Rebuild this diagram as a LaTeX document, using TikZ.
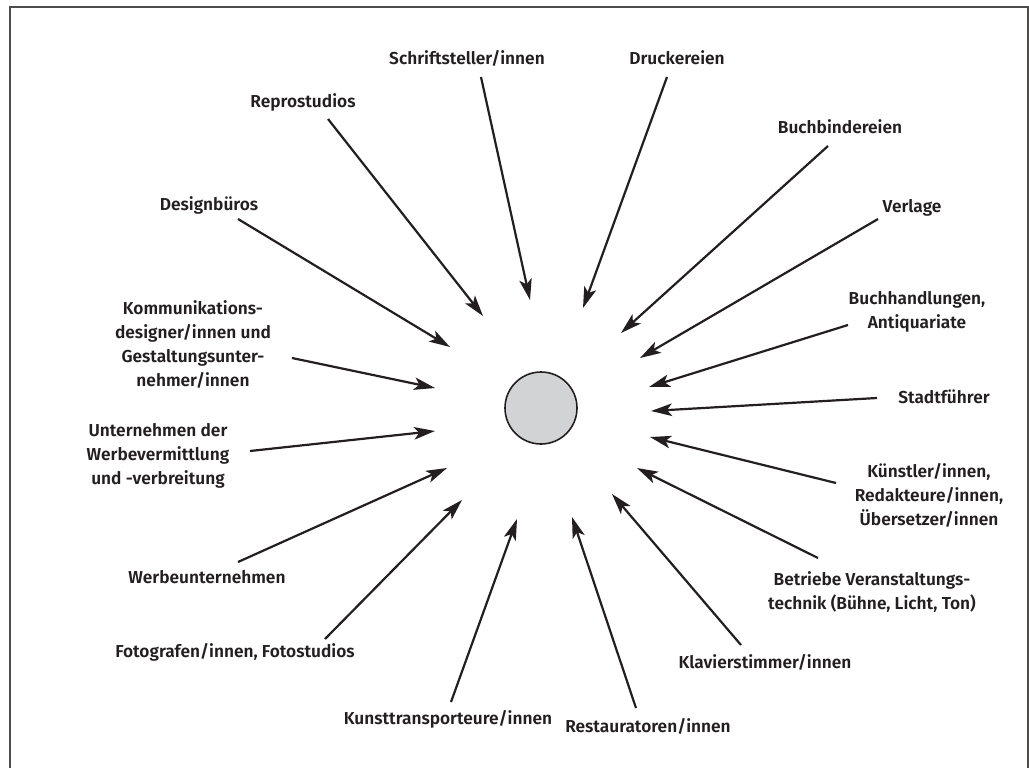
\documentclass[tikz,border=0pt]{standalone}
\usepackage{fontspec}
\setmainfont{Fira Sans}[BoldFont={Fira Sans SemiBold}]
\usetikzlibrary{arrows.meta}
\definecolor{ink}{RGB}{35,31,32}
\definecolor{hubgray}{RGB}{209,211,212}
\begin{document}
\begin{tikzpicture}[x=1pt,y=-1pt,
  lbl/.style={font=\bfseries\fontsize{17.3}{24}\selectfont, align=center, text=ink, inner sep=0pt},
  feed/.style={line width=2.2pt, draw=ink, -{Stealth[length=21pt,width=12.5pt,inset=5pt]}},
  hub/.style={circle, draw=ink, line width=1.6pt, fill=hubgray, minimum size=72pt, inner sep=0pt}]
\useasboundingbox (0,0) rectangle (1029,768);
\clip (0,0) rectangle (1029,768);
% outer frame, open at the bottom
\draw[line width=1.6pt, ink!80] (10,7) rectangle (1028,800);

% centre
\node[hub] (hub) at (541,408) {};

% labels
\node[lbl] (schrift) at (467,58) {Schriftsteller/innen};
\node[lbl] (druck) at (677,58) {Druckereien};
\node[lbl] (repro) at (303,102) {Reprostudios};
\node[lbl] (bind) at (840,127) {Buchbindereien};
\node[lbl] (design) at (209,205) {Designbüros};
\node[lbl] (verlag) at (912,208) {Verlage};
\node[lbl] (handel) at (917,312) {Buchhandlungen,\\Antiquariate};
\node[lbl] (komm) at (193,345) {Kommunikations-\\designer/innen und\\Gestaltungsunter-\\nehmer/innen};
\node[lbl] (stadt) at (944,397) {Stadtführer};
\node[lbl] (werbev) at (158,456) {Unternehmen der\\Werbevermittlung\\und -verbreitung};
\node[lbl] (kuenst) at (929,495) {Künstler/innen,\\Redakteure/innen,\\Übersetzer/innen};
\node[lbl] (werbeu) at (207,577) {Werbeunternehmen};
\node[lbl] (betrieb) at (872,592) {Betriebe Veranstaltungs-\\technik (Bühne, Licht, Ton)};
\node[lbl] (foto) at (235,652) {Fotografen/innen, Fotostudios};
\node[lbl] (klavier) at (765,662) {Klavierstimmer/innen};
\node[lbl] (kunsttr) at (448,719) {Kunsttransporteure/innen};
\node[lbl] (restau) at (648,726) {Restauratoren/innen};

% arrow start points
\coordinate (s1) at (481,77);
\coordinate (s2) at (667,77);
\coordinate (s3) at (328,119);
\coordinate (s4) at (828,146);
\coordinate (s5) at (238,219);
\coordinate (s6) at (878,219);
\coordinate (s7) at (848,325);
\coordinate (s8) at (292,358);
\coordinate (s9) at (877,398);
\coordinate (s10) at (250,451);
\coordinate (s11) at (836,483);
\coordinate (s12) at (238,562);
\coordinate (s13) at (818,558);
\coordinate (s14) at (325,639);
\coordinate (s15) at (741,645);
\coordinate (s16) at (451,702);
\coordinate (s17) at (636,708);

% arrow tips around the centre
\coordinate (t1) at (530,300);
\coordinate (t2) at (583,308);
\coordinate (t3) at (483,316);
\coordinate (t4) at (621,333);
\coordinate (t5) at (450,347);
\coordinate (t6) at (640,358);
\coordinate (t7) at (649,387);
\coordinate (t8) at (435,388);
\coordinate (t9) at (651,411);
\coordinate (t10) at (435,431);
\coordinate (t11) at (650,437);
\coordinate (t12) at (447,468);
\coordinate (t13) at (637,468);
\coordinate (t14) at (462,500);
\coordinate (t15) at (612,494);
\coordinate (t16) at (517,519);
\coordinate (t17) at (572,517);

\foreach \i in {1,...,17} {
  \draw[feed] (s\i) -- (t\i);
}
\end{tikzpicture}
\end{document}
